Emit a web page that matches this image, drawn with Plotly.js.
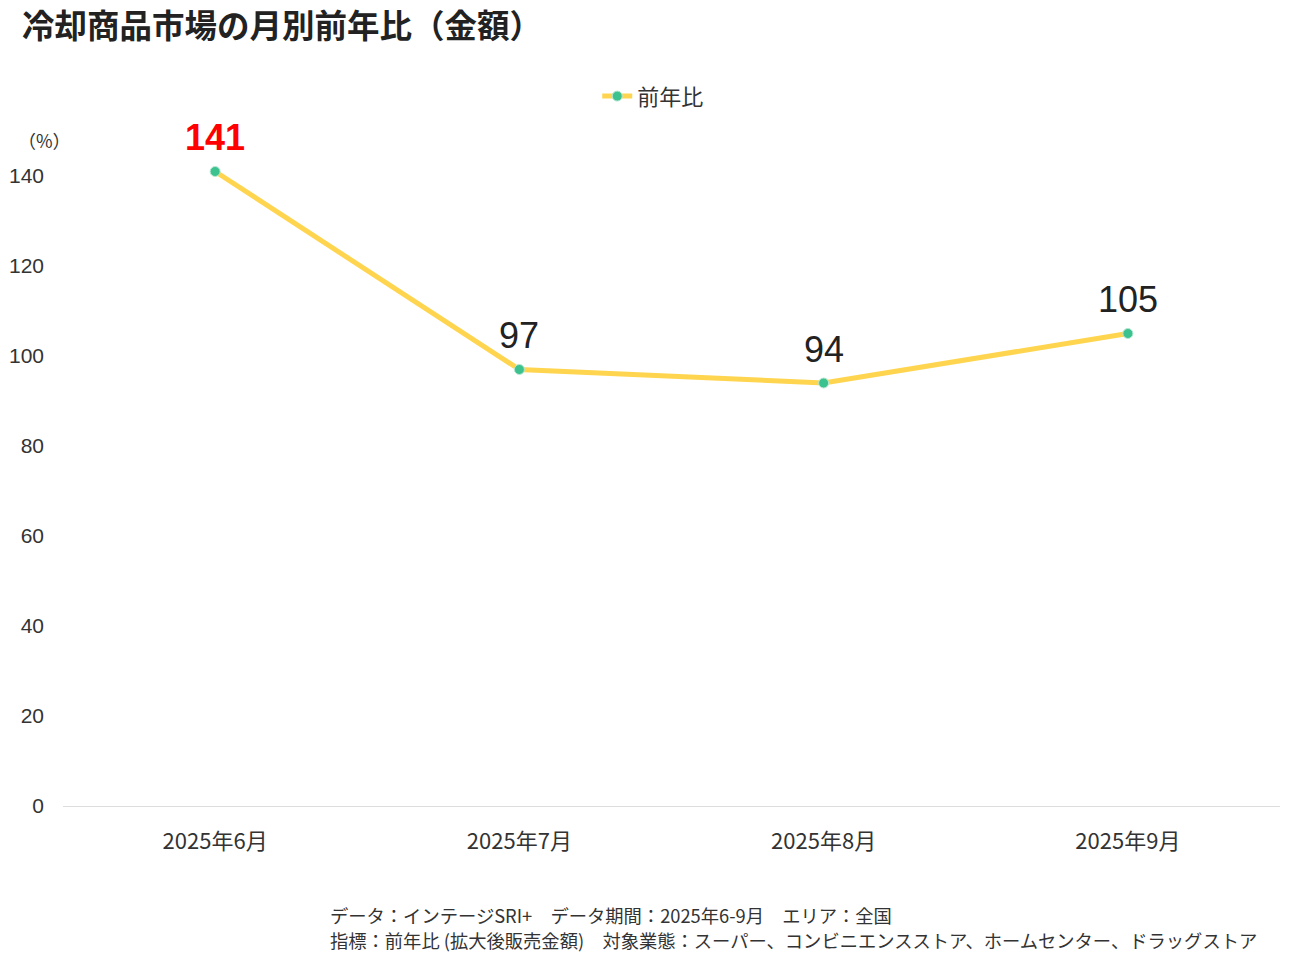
<!DOCTYPE html>
<html>
<head>
<meta charset="utf-8">
<script src="https://cdn.plot.ly/plotly-3.0.1.min.js"></script>
<style>
  html, body { margin: 0; padding: 0; background: #fff; }
  #chart { width: 1300px; height: 963px; }
</style>
</head>
<body>
<div id="chart"></div>
<script>
const months = ['2025年6月', '2025年7月', '2025年8月', '2025年9月'];
const yoy = [141, 97, 94, 105];
const labelColors = ['#ff0000', '#222222', '#222222', '#222222'];
const labelBold = [true, false, false, false];
const notes = [
    'データ：インテージSRI+　データ期間：2025年6-9月　エリア：全国',
    '指標：前年比 (拡大後販売金額)　対象業態：スーパー、コンビニエンスストア、ホームセンター、ドラッグストア'
];

const jp = '"Noto Sans CJK JP", "Noto Sans", sans-serif';
const num = '"Liberation Sans", Arial, sans-serif';

const data = [{
    x: months,
    y: yoy,
    name: '前年比',
    type: 'scatter',
    mode: 'lines+markers',
    line: { color: '#ffd54f', width: 5 },
    marker: { color: '#3cc28f', size: 10, line: { color: '#b8e8d4', width: 1 } },
    hoverinfo: 'x+y'
}];

const annotations = months.map((m, i) => ({
    x: m,
    y: yoy[i],
    text: labelBold[i] ? '<b>' + yoy[i] + '</b>' : String(yoy[i]),
    showarrow: false,
    yshift: 34,
    font: { family: num, size: 36, color: labelColors[i] }
}));

annotations.push({
    xref: 'paper', yref: 'paper',
    x: -0.039, y: 1.0,
    xanchor: 'left', yanchor: 'middle',
    yshift: -9,
    text: '（%）',
    showarrow: false,
    font: { family: jp, size: 18, color: '#333' }
});

// footnote lines placed individually below the plot
notes.forEach((t, i) => {
    annotations.push({
        xref: 'paper', yref: 'paper',
        x: 0.218, y: -0.1615 - i * 0.037,
        xanchor: 'left', yanchor: 'middle',
        text: t,
        showarrow: false,
        font: { family: jp, size: 18.3, color: '#333' }
    });
});

const layout = {
    width: 1300,
    height: 963,
    title: {
        text: '<b>冷却商品市場の月別前年比（金額）</b>',
        font: { family: jp, size: 32.5, color: '#222' },
        x: 0.017,
        xanchor: 'left',
        y: 0.972,
        yanchor: 'middle'
    },
    margin: { l: 63, r: 20, t: 131, b: 157, pad: 0 },
    paper_bgcolor: '#ffffff',
    plot_bgcolor: '#ffffff',
    showlegend: true,
    legend: {
        orientation: 'h',
        x: 0.485, xanchor: 'center',
        y: 0.9, yanchor: 'middle',
        yref: 'container',
        font: { family: jp, size: 22, color: '#333' }
    },
    xaxis: {
        type: 'category',
        range: [-0.5, 3.5],
        showgrid: false,
        showline: false,
        zeroline: false,
        ticks: '',
        ticklabelstandoff: 20,
        tickfont: { family: jp, size: 22, color: '#333' }
    },
    yaxis: {
        range: [0, 150],
        tickvals: [0, 20, 40, 60, 80, 100, 120, 140],
        showgrid: false,
        showline: false,
        zeroline: true,
        zerolinecolor: '#dddddd',
        zerolinewidth: 1,
        ticks: '',
        ticklabelstandoff: 18,
        tickfont: { family: num, size: 21, color: '#333' }
    },
    annotations: annotations
};

Plotly.newPlot('chart', data, layout, { displayModeBar: false });
</script>
</body>
</html>
